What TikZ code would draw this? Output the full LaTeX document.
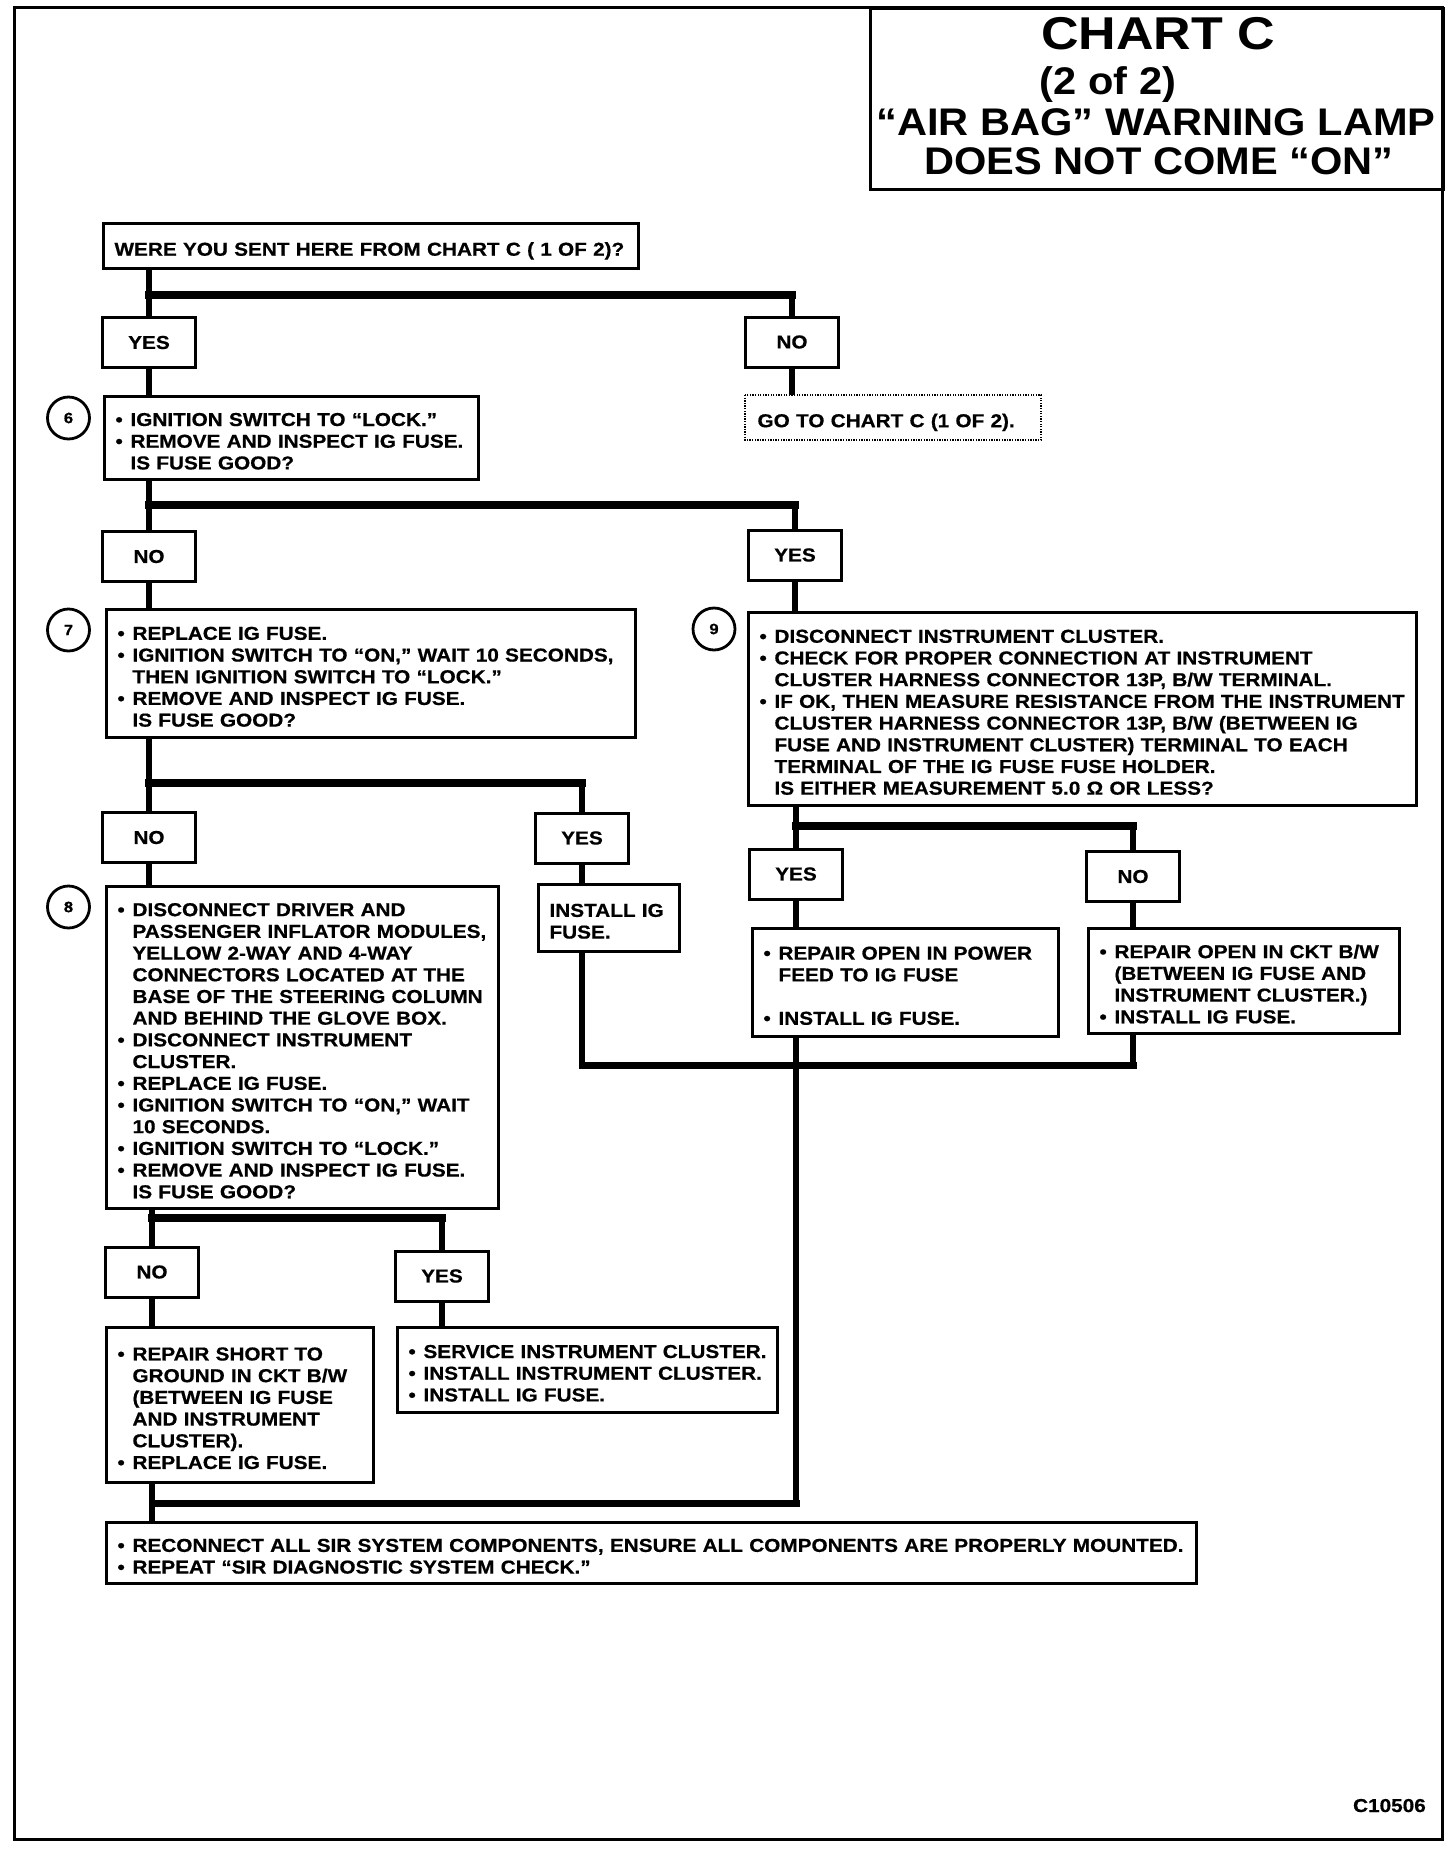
\documentclass[tikz,border=0pt]{standalone}
\usepackage{fontspec}
\setmainfont{Liberation Sans}[FakeStretch=1.11, BoldFeatures={FakeBold=0.6}]
\newfontfamily\titlefont{Liberation Sans}[FakeStretch=1.08]
\newfontfamily\chartfont{Liberation Sans}[FakeStretch=1.13]
\newcommand\XS{\rule[-4pt]{0pt}{17.4pt}}
\newcommand\XT{\rule[-4pt]{0pt}{27.4pt}}
\newcommand\XB[1]{\mbox{\XS\makebox[15pt][l]{•}#1}}
\newcommand\XI[1]{\mbox{\XS\hspace*{15pt}#1}}
\newcommand\XP[1]{\mbox{\XS#1}}
\tikzset{
 body/.style={font=\bfseries\fontsize{18.7}{21.7}\selectfont},
 box/.style={body, draw, line width=3pt, anchor=north west, inner xsep=11pt, inner ysep=0pt, align=left},
 lab/.style={body, draw, line width=3pt, inner sep=0pt, minimum width=93pt, minimum height=50pt},
 circ/.style={draw, circle, line width=2.8pt, minimum size=42pt, inner sep=0pt, font=\bfseries\fontsize{15}{15}\selectfont},
 vl/.style={line width=6pt},
 bar/.style={line width=8pt, line cap=rect},
 mbar/.style={line width=7pt, line cap=rect},
 ttl/.style={font=\titlefont\bfseries\fontsize{38.5}{38.5}\selectfont, inner sep=0pt, anchor=base},
}
\begin{document}
\begin{tikzpicture}[x=1pt,y=-1pt]
\useasboundingbox (0,0) rectangle (1456,1850);
\draw[line width=3pt] (14,7) rectangle (1442,1839);
% title
\node[draw, line width=3pt, anchor=north west, minimum width=573pt, minimum height=181pt, inner sep=0pt] (tbox) at (869,7) {};
\node[ttl, font=\chartfont\bfseries\fontsize{46}{46}\selectfont] (t1) at (1158,49.5) {CHART C};
\node[ttl] (t2) at (1108,94) {(2 of 2)};
\node[ttl] (t3) at (1156,135) {“AIR BAG” WARNING LAMP};
\node[ttl] (t4) at (1159,174.5) {DOES NOT COME “ON”};
% boxes
\node[box, text width=513pt, minimum height=45pt] (q) at (102,222) {\XT\XP{WERE YOU SENT HERE FROM CHART C ( 1 OF 2)?}};
\node[lab] (y1) at (149,342.5) {YES};
\node[lab] (n1) at (792,342) {NO};
\node[box, text width=352pt, minimum height=83pt] (b6) at (103,395) {\XT\XB{IGNITION SWITCH TO “LOCK.”}\\\XB{REMOVE AND INSPECT IG FUSE.}\\\XI{IS FUSE GOOD?}};
\node[box, draw=none, text width=271pt, minimum height=42pt] (go) at (745,395) {\XT\XP{GO TO CHART C (1 OF 2).}};
\draw[line width=1.6pt, dash pattern=on 1.3pt off 1.3pt] (go.north west) rectangle (go.south east);
\node[circ] (c6) at (68.5,418) {6};
\node[lab] (n2) at (149,556.5) {NO};
\node[lab] (y2) at (795,555) {YES};
\node[box, text width=507pt, minimum height=128pt] (b7) at (105,608) {\XT\XB{REPLACE IG FUSE.}\\\XB{IGNITION SWITCH TO “ON,” WAIT 10 SECONDS,}\\\XI{THEN IGNITION SWITCH TO “LOCK.”}\\\XB{REMOVE AND INSPECT IG FUSE.}\\\XI{IS FUSE GOOD?}};
\node[circ] (c7) at (68.5,630) {7};
\node[box, text width=646pt, minimum height=193pt] (b9) at (747,611) {\XT\XB{DISCONNECT INSTRUMENT CLUSTER.}\\\XB{CHECK FOR PROPER CONNECTION AT INSTRUMENT}\\\XI{CLUSTER HARNESS CONNECTOR 13P, B/W TERMINAL.}\\\XB{IF OK, THEN MEASURE RESISTANCE FROM THE INSTRUMENT}\\\XI{CLUSTER HARNESS CONNECTOR 13P, B/W (BETWEEN IG}\\\XI{FUSE AND INSTRUMENT CLUSTER) TERMINAL TO EACH}\\\XI{TERMINAL OF THE IG FUSE FUSE HOLDER.}\\\XI{IS EITHER MEASUREMENT 5.0 Ω OR LESS?}};
\node[circ] (c9) at (714,629) {9};
\node[lab] (n3) at (149,837.5) {NO};
\node[lab] (y3) at (582,838) {YES};
\node[box, text width=370pt, minimum height=322pt] (b8) at (105,885) {\XT\XB{DISCONNECT DRIVER AND}\\\XI{PASSENGER INFLATOR MODULES,}\\\XI{YELLOW 2-WAY AND 4-WAY}\\\XI{CONNECTORS LOCATED AT THE}\\\XI{BASE OF THE STEERING COLUMN}\\\XI{AND BEHIND THE GLOVE BOX.}\\\XB{DISCONNECT INSTRUMENT}\\\XI{CLUSTER.}\\\XB{REPLACE IG FUSE.}\\\XB{IGNITION SWITCH TO “ON,” WAIT}\\\XI{10 SECONDS.}\\\XB{IGNITION SWITCH TO “LOCK.”}\\\XB{REMOVE AND INSPECT IG FUSE.}\\\XI{IS FUSE GOOD?}};
\node[circ] (c8) at (68.5,907) {8};
\node[box, text width=119pt, minimum height=67pt] (inst) at (537,883) {\XT\XP{INSTALL IG}\\\XP{FUSE.}};
\node[lab] (y4) at (796,874) {YES};
\node[lab] (n4) at (1133,876.5) {NO};
\node[box, text width=284pt, minimum height=108pt] (rp) at (751,927) {\XT\XB{REPAIR OPEN IN POWER}\\\XI{FEED TO IG FUSE}\\\XP{}\\\XB{INSTALL IG FUSE.}};
\node[box, text width=289pt, minimum height=105pt] (rc) at (1087,927) {\XT\XB{REPAIR OPEN IN CKT B/W}\\\XI{(BETWEEN IG FUSE AND}\\\XI{INSTRUMENT CLUSTER.)}\\\XB{INSTALL IG FUSE.}};
\node[lab] (n5) at (152,1272) {NO};
\node[lab] (y5) at (442,1276) {YES};
\node[box, text width=245pt, minimum height=155pt] (rs) at (105,1326) {\XT\XB{REPAIR SHORT TO}\\\XI{GROUND IN CKT B/W}\\\XI{(BETWEEN IG FUSE}\\\XI{AND INSTRUMENT}\\\XI{CLUSTER).}\\\XB{REPLACE IG FUSE.}};
\node[box, text width=358pt, minimum height=85pt] (si) at (396,1326) {\XT\XB{SERVICE INSTRUMENT CLUSTER.}\\\XB{INSTALL INSTRUMENT CLUSTER.}\\\XB{INSTALL IG FUSE.}};
\node[box, text width=1068pt, minimum height=61pt] (fin) at (105,1521) {\XT\XB{RECONNECT ALL SIR SYSTEM COMPONENTS, ENSURE ALL COMPONENTS ARE PROPERLY MOUNTED.}\\\XB{REPEAT “SIR DIAGNOSTIC SYSTEM CHECK.”}};
\node[body, anchor=base east, inner sep=0pt] (code) at (1426,1812) {C10506};
% junctions
\coordinate (j1) at (149,295);
\coordinate (j2) at (149,505);
\coordinate (j3) at (149,783);
\coordinate (j4) at (796,826);
\coordinate (j5) at (582,1065);
\coordinate (j6) at (796,1503);
\coordinate (j7) at (152,1218);
% connectors
\draw[vl] (q.south -| y1.north) -- (y1.north);
\draw[bar] (j1) -- (j1 -| n1.north);
\draw[vl] (j1 -| n1.north) -- (n1.north);
\draw[vl] (n1.south) -- (n1.south |- go.north);
\draw[vl] (y1.south) -- (y1.south |- b6.north);
\draw[vl] (b6.south -| n2.north) -- (n2.north);
\draw[bar] (j2) -- (j2 -| y2.north);
\draw[vl] (j2 -| y2.north) -- (y2.north);
\draw[vl] (n2.south) -- (n2.south |- b7.north);
\draw[vl] (y2.south) -- (y2.south |- b9.north);
\draw[vl] (b7.south -| n3.north) -- (n3.north);
\draw[bar] (j3) -- (j3 -| y3.north);
\draw[vl] (j3 -| y3.north) -- (y3.north);
\draw[vl] (n3.south) -- (n3.south |- b8.north);
\draw[vl] (y3.south) -- (y3.south |- inst.north);
\draw[vl] (b9.south -| y4.north) -- (y4.north);
\draw[bar] (j4) -- (j4 -| n4.north);
\draw[vl] (j4 -| n4.north) -- (n4.north);
\draw[vl] (y4.south) -- (y4.south |- rp.north);
\draw[vl] (n4.south) -- (n4.south |- rc.north);
\draw[vl] (inst.south -| j5) -- (j5);
\draw[mbar] (j5) -- (j5 -| n4.south);
\draw[vl] (rc.south -| n4.south) -- (j5 -| n4.south);
\draw[vl] (rp.south -| y4.south) -- (j6);
\draw[mbar] (j6) -- (j6 -| n5.south);
\draw[vl] (b8.south -| n5.north) -- (n5.north);
\draw[bar] (j7) -- (j7 -| y5.north);
\draw[vl] (j7 -| y5.north) -- (y5.north);
\draw[vl] (n5.south) -- (n5.south |- rs.north);
\draw[vl] (y5.south) -- (y5.south |- si.north);
\draw[vl] (rs.south -| n5.south) -- (fin.north -| n5.south);
\end{tikzpicture}
\end{document}
